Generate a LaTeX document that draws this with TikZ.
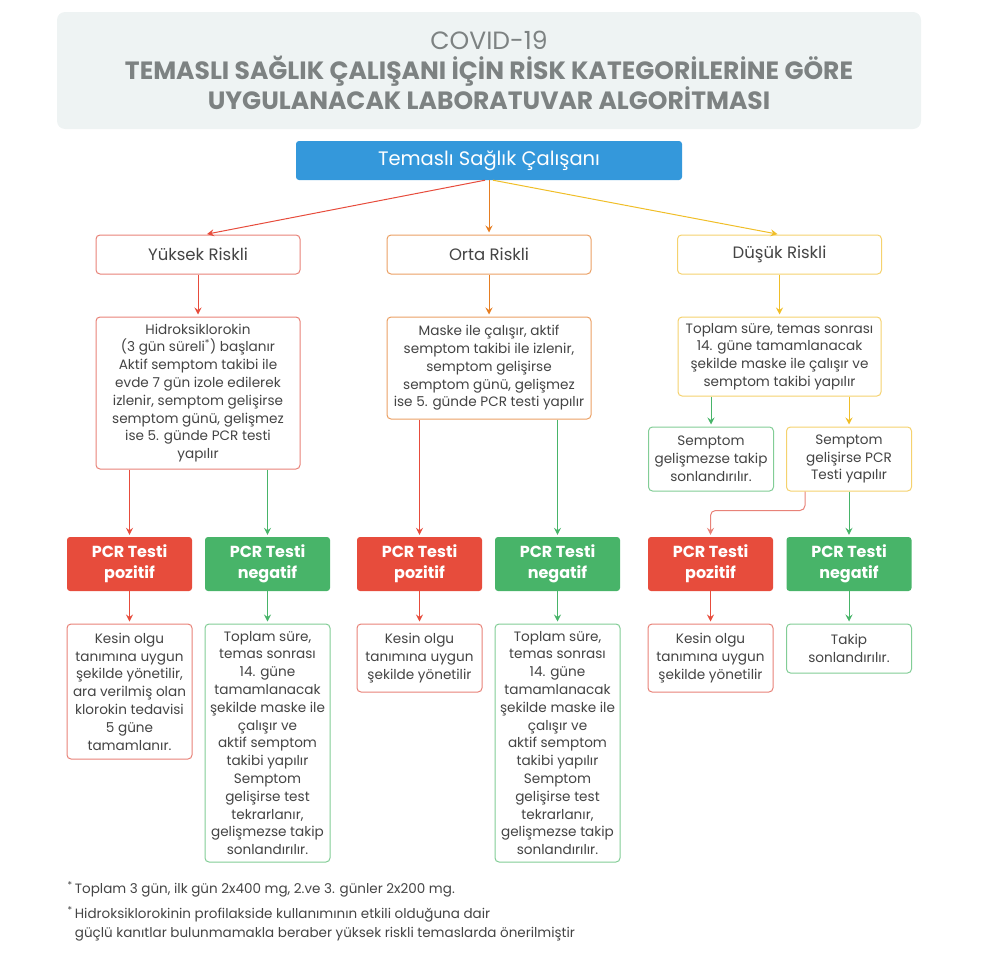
\documentclass[tikz,border=0pt]{standalone}
\usepackage{fontspec}
\setmainfont{Poppins}
\usetikzlibrary{arrows.meta}
\definecolor{covidgray}{RGB}{238,243,243}
\definecolor{covidtitle}{RGB}{125,130,130}
\definecolor{covidtext}{RGB}{68,68,68}
\definecolor{covidblue}{RGB}{52,152,219}
\definecolor{covidred}{RGB}{231,76,60}
\definecolor{covidgreen}{RGB}{72,180,105}
\definecolor{covidorange}{RGB}{230,126,34}
\definecolor{covidyellow}{RGB}{240,190,40}
\definecolor{lightred}{RGB}{232,130,120}
\definecolor{lightorange}{RGB}{235,160,100}
\definecolor{lightyellow}{RGB}{245,210,110}
\definecolor{lightgreen}{RGB}{130,205,150}

\begin{document}
\begin{tikzpicture}[x=1pt,y=-1pt]
    \tikzstyle{box} = [rectangle, rounded corners=4pt, draw, line width=1pt, fill=white, text=covidtext, align=center, inner sep=1pt, font=\fontsize{13.6}{17.8}\selectfont]
    \tikzstyle{risk} = [box, minimum width=204pt, minimum height=39pt, font=\fontsize{16.5}{18}\selectfont]
    \tikzstyle{small} = [box, minimum width=125pt]
    \tikzstyle{test} = [rectangle, rounded corners=3pt, text=white, align=center, minimum width=125pt, minimum height=54pt, font=\bfseries\fontsize{16}{21}\selectfont]
    \tikzstyle{arr} = [-{Stealth[length=7pt,width=7pt,inset=2.5pt]}, line width=1pt, shorten >=2pt]
    \useasboundingbox (0,0) rectangle (1006,953);

    % Title
    \node[rectangle, rounded corners=8pt, fill=covidgray, minimum width=864pt, minimum height=117pt, align=center, text=covidtitle, font=\fontsize{25}{30}\selectfont] (title) at (489,70.5)
        {COVID-19\\ \textbf{TEMASLI SAĞLIK ÇALIŞANI İÇİN RİSK KATEGORİLERİNE GÖRE}\\ \textbf{UYGULANACAK LABORATUVAR ALGORİTMASI}};
    \node[rectangle, rounded corners=3pt, fill=covidblue, text=white, minimum width=386pt, minimum height=39pt, font=\fontsize{19.5}{20}\selectfont] (worker) at (489,160.5) {Temaslı Sağlık Çalışanı};

    % Risk levels
    \node[risk, draw=lightred] (high) at (198,254.5) {Yüksek Riskli};
    \node[risk, draw=lightorange] (mid) at (489,254.5) {Orta Riskli};
    \node[risk, draw=lightyellow] (low) at (779.5,254.5) {Düşük Riskli};

    % Follow-up
    \node[box, draw=lightred, minimum width=204pt, minimum height=152pt] (highcare) at (198,393)
        {Hidroksiklorokin\\ (3 gün süreli\textsuperscript{*}) başlanır\\ Aktif semptom takibi ile\\ evde 7 gün izole edilerek\\ izlenir, semptom gelişirse\\ semptom günü, gelişmez\\ ise 5. günde PCR testi\\ yapılır};
    \node[box, draw=lightorange, minimum width=204pt, minimum height=102pt] (midcare) at (489,368)
        {Maske ile çalışır, aktif\\ semptom takibi ile izlenir,\\ semptom gelişirse\\ semptom günü, gelişmez\\ ise 5. günde PCR testi yapılır};
    \node[box, draw=lightyellow, minimum width=203pt, minimum height=79pt] (lowcare) at (779.5,356.5)
        {Toplam süre, temas sonrası\\ 14. güne tamamlanacak\\ şekilde maske ile çalışır ve\\ semptom takibi yapılır};
    \node[small, draw=lightgreen, minimum height=64pt] (lowstop) at (711,459)
        {Semptom\\ gelişmezse takip\\ sonlandırılır.};
    \node[small, draw=lightyellow, minimum height=64pt] (lowtest) at (849,459)
        {Semptom\\ gelişirse PCR\\ Testi yapılır};

    % PCR results
    \node[test, fill=covidred] (highpos) at (129.5,564) {PCR Testi\\ pozitif};
    \node[test, fill=covidgreen] (highneg) at (267.5,564) {PCR Testi\\ negatif};
    \node[test, fill=covidred] (midpos) at (419.5,564) {PCR Testi\\ pozitif};
    \node[test, fill=covidgreen] (midneg) at (557.5,564) {PCR Testi\\ negatif};
    \node[test, fill=covidred] (lowpos) at (710.5,564) {PCR Testi\\ pozitif};
    \node[test, fill=covidgreen] (lowneg) at (849,564) {PCR Testi\\ negatif};

    % Outcomes
    \node[small, draw=lightred, minimum height=135pt] (highposout) at (129.5,691.5)
        {Kesin olgu\\ tanımına uygun\\ şekilde yönetilir,\\ ara verilmiş olan\\ klorokin tedavisi\\ 5 güne\\ tamamlanır.};
    \node[small, draw=lightgreen, minimum height=238pt] (highnegout) at (267.5,743)
        {Toplam süre,\\ temas sonrası\\ 14. güne\\ tamamlanacak\\ şekilde maske ile\\ çalışır ve\\ aktif semptom\\ takibi yapılır\\ Semptom\\ gelişirse test\\ tekrarlanır,\\ gelişmezse takip\\ sonlandırılır.};
    \node[small, draw=lightred, minimum height=68pt] (midposout) at (419.5,658)
        {Kesin olgu\\ tanımına uygun\\ şekilde yönetilir};
    \node[small, draw=lightgreen, minimum height=238pt] (midnegout) at (557.5,743)
        {Toplam süre,\\ temas sonrası\\ 14. güne\\ tamamlanacak\\ şekilde maske ile\\ çalışır ve\\ aktif semptom\\ takibi yapılır\\ Semptom\\ gelişirse test\\ tekrarlanır,\\ gelişmezse takip\\ sonlandırılır.};
    \node[small, draw=lightred, minimum height=68pt] (lowposout) at (710.5,658)
        {Kesin olgu\\ tanımına uygun\\ şekilde yönetilir};
    \node[small, draw=lightgreen, minimum height=49pt] (lownegout) at (849,648.5)
        {Takip\\ sonlandırılır.};

    % Footnotes
    \node[anchor=west, text=covidtext, font=\fontsize{13.5}{19}\selectfont] (note1) at (64,889)
        {\textsuperscript{*}\,Toplam 3 gün, ilk gün 2x400 mg, 2.ve 3. günler 2x200 mg.};
    \node[anchor=north west, align=left, text=covidtext, font=\fontsize{13.5}{19}\selectfont] (note2) at (64,903)
        {\textsuperscript{*}\,Hidroksiklorokinin profilakside kullanımının etkili olduğuna dair\\ \hphantom{\textsuperscript{*}}\,güçlü kanıtlar bulunmamakla beraber yüksek riskli temaslarda önerilmiştir};

    % Connections
    \draw[arr, covidred] ([xshift=-4pt]worker.south) -- ([xshift=7pt]high.north);
    \draw[arr, covidorange] (worker.south) -- (mid.north);
    \draw[arr, covidyellow] ([xshift=4pt]worker.south) -- (low.north);
    \draw[arr, covidred] (high) -- (highcare);
    \draw[arr, covidorange] (mid) -- (midcare);
    \draw[arr, covidyellow] (low) -- (lowcare);
    \draw[arr, covidred] (highcare.south -| highpos.north) -- (highpos.north);
    \draw[arr, covidgreen] (highcare.south -| highneg.north) -- (highneg.north);
    \draw[arr, covidred] (midcare.south -| midpos.north) -- (midpos.north);
    \draw[arr, covidgreen] (midcare.south -| midneg.north) -- (midneg.north);
    \draw[arr, covidgreen] (lowcare.south -| lowstop.north) -- (lowstop.north);
    \draw[arr, covidyellow] (lowcare.south -| lowtest.north) -- (lowtest.north);
    \draw[arr, lightred, rounded corners=5pt] ([xshift=-44pt]lowtest.south) -- ++(0,19) -| (lowpos.north);
    \draw[arr, covidgreen] (lowtest) -- (lowneg);
    \draw[arr, covidred] (highpos) -- (highposout);
    \draw[arr, covidgreen] (highneg) -- (highnegout);
    \draw[arr, covidred] (midpos) -- (midposout);
    \draw[arr, covidgreen] (midneg) -- (midnegout);
    \draw[arr, covidred] (lowpos) -- (lowposout);
    \draw[arr, covidgreen] (lowneg) -- (lownegout);
\end{tikzpicture}
\end{document}
